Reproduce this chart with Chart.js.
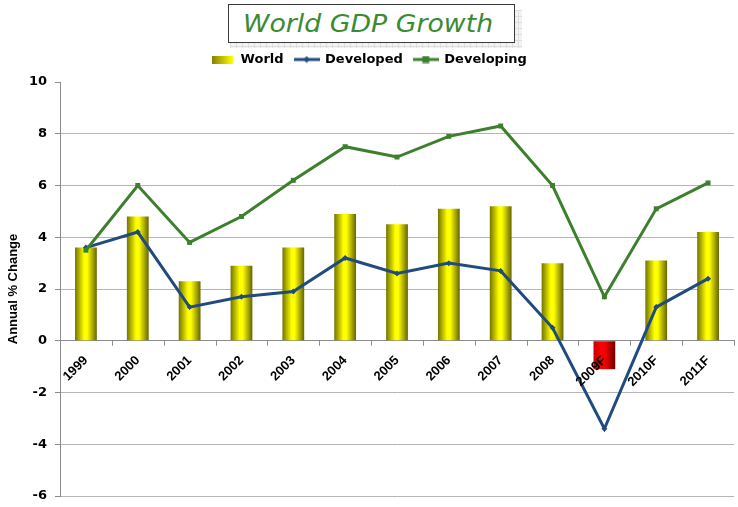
<!DOCTYPE html>
<html>
<head>
<meta charset="utf-8">
<title>World GDP Growth</title>
<script src="https://cdn.jsdelivr.net/npm/chart.js@4.4.1/dist/chart.umd.min.js"></script>
<style>
    html, body { margin: 0; padding: 0; background: #fff; }
    #wrap { position: relative; width: 738px; height: 507px; overflow: hidden; }
    #gdpChart { position: absolute; left: 0; top: 0; }
    .title-shadow {
        position: absolute; left: 230px; top: 10px; width: 292px; height: 38px;
        background-color: #f3f3f3;
        background-image: linear-gradient(#dddddd 1px, transparent 1px),
                          linear-gradient(90deg, #dddddd 1px, transparent 1px);
        background-size: 6px 6px;
    }
    .title-box {
        position: absolute; left: 228px; top: 4px; width: 287px; height: 39px;
        box-sizing: border-box; border: 1px solid #3a3a3a; background: #fff;
    }
    .title-box span {
        position: absolute; left: 14px; top: 0; line-height: 37px;
        font-family: "DejaVu Sans", sans-serif; font-style: italic; font-size: 25px;
        color: #3b8a34; white-space: nowrap;
        transform: scaleX(1.07); transform-origin: left center;
    }
</style>
</head>
<body>
<div id="wrap">
    <canvas id="gdpChart" width="738" height="507"></canvas>
    <div class="title-shadow"></div>
    <div class="title-box"><span>World GDP Growth</span></div>
</div>
<script>
// values
const years = ['1999', '2000', '2001', '2002', '2003', '2004', '2005', '2006', '2007', '2008', '2009F', '2010F', '2011F'];
const world = [3.6, 4.8, 2.3, 2.9, 3.6, 4.9, 4.5, 5.1, 5.2, 3.0, -1.1, 3.1, 4.2];
const developed = [3.6, 4.2, 1.3, 1.7, 1.9, 3.2, 2.6, 3.0, 2.7, 0.5, -3.4, 1.3, 2.4];
const developing = [3.5, 6.0, 3.8, 4.8, 6.2, 7.5, 7.1, 7.9, 8.3, 6.0, 1.7, 5.1, 6.1];
const yRange = [-6, 10];

const BLUE = '#214b7f';
const GREEN = '#3c802e';
const AXIS_GREY = '#8c8c8c';
const BAR_PCT = 0.42;

function barGradient(ctx, left, right, negative) {
    const g = ctx.createLinearGradient(left, 0, right, 0);
    if (negative) {
        g.addColorStop(0, '#c80000');
        g.addColorStop(0.35, '#ff0000');
        g.addColorStop(0.55, '#f00000');
        g.addColorStop(1, '#6a0000');
    } else {
        g.addColorStop(0, '#747400');
        g.addColorStop(0.42, '#ffff00');
        g.addColorStop(0.56, '#ffff00');
        g.addColorStop(1, '#646400');
    }
    return g;
}

function barFill(context) {
    const chart = context.chart;
    const xs = chart.scales.x;
    const v = context.raw;
    if (!xs || context.type !== 'data') return '#ffff00';
    const cx = xs.getPixelForValue(context.dataIndex);
    const half = (xs.width / years.length) * BAR_PCT / 2;
    return barGradient(chart.ctx, cx - half, cx + half, v < 0);
}

// little legend markers
function legendBar() {
    const c = document.createElement('canvas');
    c.width = 21; c.height = 8;
    const g = c.getContext('2d');
    const grad = g.createLinearGradient(0, 0, 21, 0);
    grad.addColorStop(0, '#808000');
    grad.addColorStop(1, '#ffff00');
    g.fillStyle = grad;
    g.fillRect(0, 0, 21, 8);
    return c;
}

function legendLine(color, square) {
    const c = document.createElement('canvas');
    c.width = 26; c.height = 8;
    const g = c.getContext('2d');
    g.strokeStyle = color;
    g.lineWidth = 3;
    g.beginPath();
    g.moveTo(0, 4);
    g.lineTo(26, 4);
    g.stroke();
    g.fillStyle = color;
    if (square) {
        g.fillRect(9.5, 0.5, 7, 7);
    } else {
        g.beginPath();
        g.moveTo(13, 0.5); g.lineTo(16, 4); g.lineTo(13, 7.5); g.lineTo(10, 4);
        g.closePath();
        g.fill();
    }
    return c;
}

const legendIcons = [legendBar(), legendLine(BLUE, false), legendLine(GREEN, true)];

// give the legend a bit more room under it
const legendSpacer = {
    id: 'legendSpacer',
    beforeInit(chart) {
        const fit = chart.legend.fit;
        chart.legend.fit = function () {
            fit.call(this);
            this.height += 6;
        };
    }
};

// short tick marks on the zero line, between the categories
const categoryTicks = {
    id: 'categoryTicks',
    afterDatasetsDraw(chart) {
        const xs = chart.scales.x;
        const y0 = chart.scales.y.getPixelForValue(0);
        const step = xs.width / years.length;
        const c = chart.ctx;
        c.save();
        c.strokeStyle = AXIS_GREY;
        c.lineWidth = 1;
        c.beginPath();
        for (let i = 0; i <= years.length; i++) {
            const x = Math.round(xs.getPixelForValue(i) - step / 2) + 0.5;
            c.moveTo(x, y0);
            c.lineTo(x, y0 + 5);
        }
        c.stroke();
        c.restore();
    }
};

new Chart(document.getElementById('gdpChart'), {
    data: {
        labels: years,
        datasets: [
            {
                type: 'bar',
                label: 'World',
                data: world,
                backgroundColor: barFill,
                borderWidth: 0,
                barPercentage: BAR_PCT,
                categoryPercentage: 1,
                order: 3
            },
            {
                type: 'line',
                label: 'Developed',
                data: developed,
                borderColor: BLUE,
                backgroundColor: BLUE,
                borderWidth: 3,
                tension: 0,
                pointStyle: 'rectRot',
                pointRadius: 3,
                pointBorderWidth: 0,
                order: 2
            },
            {
                type: 'line',
                label: 'Developing',
                data: developing,
                borderColor: GREEN,
                backgroundColor: GREEN,
                borderWidth: 3,
                tension: 0,
                pointStyle: 'rect',
                pointRadius: 3.5,
                pointBorderWidth: 0,
                order: 1
            }
        ]
    },
    plugins: [legendSpacer, categoryTicks],
    options: {
        responsive: false,
        animation: false,
        layout: { padding: { top: 42, right: 1, bottom: 11, left: 0 } },
        plugins: {
            title: { display: false },
            tooltip: { enabled: false },
            legend: {
                display: true,
                position: 'top',
                labels: {
                    usePointStyle: true,
                    pointStyleWidth: 24,
                    padding: 11,
                    color: '#000',
                    font: { family: '"DejaVu Sans", sans-serif', size: 13, weight: 'bold' },
                    generateLabels: (chart) => chart.data.datasets.map((ds, i) => ({
                        text: ds.label,
                        pointStyle: legendIcons[i],
                        fillStyle: 'transparent',
                        strokeStyle: 'transparent',
                        lineWidth: 0,
                        fontColor: '#000',
                        datasetIndex: i,
                        hidden: false
                    }))
                }
            }
        },
        scales: {
            x: {
                position: { y: 0 },
                offset: true,
                grid: {
                    offset: true,
                    drawOnChartArea: false,
                    drawTicks: true,
                    tickLength: 12,
                    tickColor: 'rgba(0,0,0,0)'
                },
                border: { display: true, color: AXIS_GREY, width: 1 },
                ticks: {
                    z: 1,
                    color: '#000',
                    maxRotation: 45,
                    minRotation: 45,
                    padding: 0,
                    font: { family: '"Liberation Sans", Arial, sans-serif', size: 13, weight: 'bold' }
                }
            },
            y: {
                min: yRange[0],
                max: yRange[1],
                afterFit: (scale) => {
                    scale.width = 60;
                    scale.paddingBottom = 0;
                },
                ticks: {
                    stepSize: 2,
                    color: '#000',
                    padding: 8,
                    font: { family: '"DejaVu Sans", sans-serif', size: 13, weight: 'bold' }
                },
                grid: {
                    color: (c) => (c.tick && c.tick.value === yRange[1]) ? 'rgba(0,0,0,0)' : '#b4b4b4',
                    tickColor: AXIS_GREY,
                    tickLength: 5,
                    lineWidth: 1
                },
                border: { display: true, color: AXIS_GREY, width: 1 },
                title: {
                    display: true,
                    text: 'Annual % Change',
                    color: '#000',
                    padding: { top: 6, bottom: 0 },
                    font: { family: '"Liberation Sans", Arial, sans-serif', size: 13, weight: 'bold' }
                }
            }
        }
    }
});
</script>
</body>
</html>
